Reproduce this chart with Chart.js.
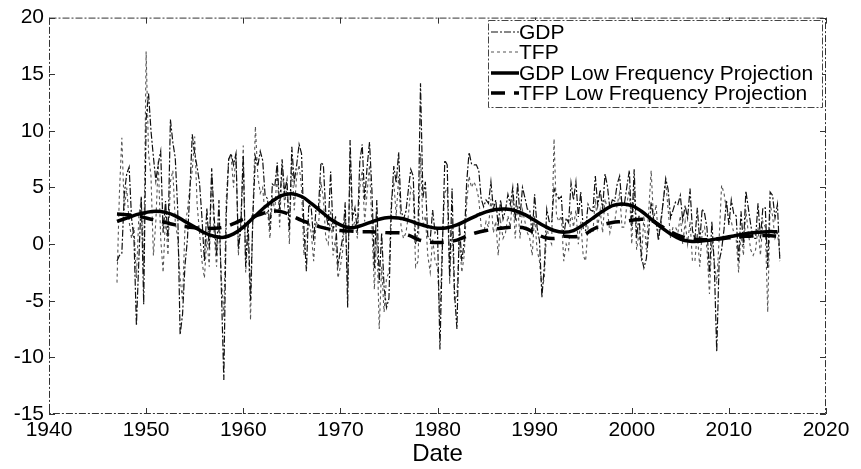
<!DOCTYPE html>
<html>
<head>
<meta charset="utf-8">
<script src="https://cdn.jsdelivr.net/npm/chart.js@4.4.1/dist/chart.umd.min.js"></script>
<style>
  html, body { margin: 0; padding: 0; background: #fff; }
  #chart { display: block; }
</style>
</head>
<body>
<canvas id="chart" width="861" height="469"></canvas>
<script>
// Quarterly growth, first value = 1947 Q1
const firstYear = 1947;

const gdp = [
  -1.5, -1.0, -0.8, 4.4,    // 1947
  6.2, 6.8, 2.3, 0.5,       // 1948
  -7.2, -1.4, 4.2, -5.3,    // 1949
  11.0, 13.3, 10.0, 7.7,    // 1950
  5.6, 7.1, 8.2, 1.0,       // 1951
  3.8, 0.4, 11.0, 9.0,      // 1952
  7.6, 3.1, -8.0, -6.2,     // 1953
  -1.9, 0.4, 4.6, 9.7,      // 1954
  8.0, 6.8, 5.4, 2.3,       // 1955
  -1.5, 3.2, -0.4, 6.7,     // 1956
  2.5, -1.0, 3.9, -4.1,     // 1957
  -12.0, 2.6, 7.5, 8.0,     // 1958
  7.0, 8.0, -0.4, 1.4,      // 1959
  7.8, -2.0, 2.1, -5.0,     // 1960
  2.7, 7.7, 6.9, 8.2,       // 1961
  7.4, 4.3, 4.0, 1.3,       // 1962
  5.3, 5.1, 7.2, 3.1,       // 1963
  7.5, 4.6, 5.7, 1.2,       // 1964
  8.6, 5.5, 7.0, 8.8,       // 1965
  8.0, 1.4, -2.4, 3.5,      // 1966
  3.2, 0.3, 3.2, 3.3,       // 1967
  7.2, 7.0, 2.7, 1.6,       // 1968
  6.4, 1.1, 2.5, -1.9,      // 1969
  -0.6, 0.6, 3.7, -5.6,     // 1970
  9.2, 2.3, 3.2, 1.1,       // 1971
  7.3, 8.8, 3.9, 6.8,       // 1972
  9.0, 4.7, -2.1, 3.9,      // 1973
  -3.4, 1.0, -3.8, -5.6,    // 1974
  -4.8, 3.1, 6.9, 5.4,      // 1975
  8.1, 3.0, 2.2, 2.9,       // 1976
  4.8, 6.6, 6.0, 0.0,       // 1977
  1.3, 14.2, 4.1, 5.5,      // 1978
  0.7, 0.4, 3.0, 1.0,       // 1979
  1.3, -9.3, -0.5, 7.4,     // 1980
  7.0, -2.9, 4.9, -4.3,     // 1981
  -7.5, 1.8, -1.5, 0.2,     // 1982
  5.4, 8.1, 7.1, 7.0,       // 1983
  7.0, 6.5, 4.0, 3.3,       // 1984
  3.9, 3.6, 5.5, 3.1,       // 1985
  3.9, 1.6, 3.9, 2.2,       // 1986
  3.0, 4.4, 3.5, 5.0,       // 1987
  2.1, 5.4, 2.4, 5.0,       // 1988
  4.1, 3.1, 3.0, 0.8,       // 1989
  4.4, 1.5, 0.3, -4.7,      // 1990
  -1.9, 3.1, 2.0, 1.9,      // 1991
  4.9, 4.4, 4.0, 4.2,       // 1992
  0.7, 2.3, 1.9, 5.4,       // 1993
  3.9, 5.5, 2.4, 4.6,       // 1994
  1.4, 1.2, 3.5, 3.0,       // 1995
  2.9, 6.0, 3.4, 4.8,       // 1996
  3.1, 6.2, 5.1, 3.1,       // 1997
  3.9, 3.8, 5.3, 6.0,       // 1998
  3.4, 3.6, 5.1, 6.5,       // 1999
  1.5, 6.6, 0.5, 2.5,       // 2000
  -1.1, -2.1, -1.3, 1.1,    // 2001
  3.7, 2.2, 2.0, 0.3,       // 2002
  2.1, 3.8, 5.8, 4.8,       // 2003
  2.3, 3.0, 3.7, 3.5,       // 2004
  4.3, 2.1, 3.4, 2.3,       // 2005
  4.9, 1.2, 0.4, 3.2,       // 2006
  0.2, 3.1, 2.7, 1.4,       // 2007
  -2.7, 2.0, -1.9, -9.5,    // 2008
  -1.5, -0.5, 1.3, 3.9,     // 2009
  1.7, 3.9, 2.7, 2.5,       // 2010
  -1.5, 2.9, -0.1, 4.7,     // 2011
  3.2, 1.7, 0.5, 0.5,       // 2012
  3.6, 0.5, 3.2, 3.2,       // 2013
  -2.1, 4.6, 4.3, 2.3,      // 2014
  3.5, -1.5                 // 2015
];

const tfp = [
  -3.4, 4.5, 9.4, 3.0,      // 1947
  5.0, 2.0, 0.5, 1.5,       // 1948
  -3.0, 2.5, 4.0, -2.0,     // 1949
  17.0, 8.0, 6.0, -1.0,     // 1950
  2.0, 7.3, 0.5, -2.5,      // 1951
  2.5, -1.0, 5.5, 6.5,      // 1952
  2.0, 0.5, -3.0, -5.0,     // 1953
  1.5, 3.0, 5.0, 6.5,       // 1954
  9.5, 3.5, 1.0, -1.5,      // 1955
  -3.0, 0.5, -2.0, 6.2,     // 1956
  1.0, -2.0, 2.0, -3.0,     // 1957
  -6.5, 4.0, 7.5, 7.8,      // 1958
  5.0, 8.0, -1.0, 2.0,      // 1959
  8.7, -2.5, 1.0, -6.7,     // 1960
  3.0, 10.4, 6.0, 4.5,      // 1961
  5.0, 2.5, 3.0, 0.5,       // 1962
  4.0, 3.0, 6.5, 1.5,       // 1963
  7.0, 3.5, 5.0, 0.0,       // 1964
  7.5, 3.0, 6.0, 7.0,       // 1965
  5.0, -1.0, 1.0, 2.0,      // 1966
  1.0, -1.5, 2.0, 1.5,      // 1967
  5.5, 4.0, 0.5, 0.0,       // 1968
  3.0, -1.0, 0.5, -3.0,     // 1969
  -2.0, -0.5, 3.0, -3.5,    // 1970
  7.5, 1.5, 2.0, 0.5,       // 1971
  5.0, 6.5, 2.0, 4.5,       // 1972
  7.0, 1.5, -4.0, 1.0,      // 1973
  -7.5, -2.0, -6.0, -3.0,   // 1974
  -2.5, 4.0, 5.5, 2.5,      // 1975
  6.0, 1.5, 0.5, 1.0,       // 1976
  2.5, 5.0, 4.5, -2.0,      // 1977
  -1.5, 8.0, 1.5, 2.5,      // 1978
  -1.0, -2.5, 0.5, -1.5,    // 1979
  -2.0, -6.5, 0.5, 4.5,     // 1980
  5.0, -3.5, 2.0, -5.0,     // 1981
  -4.5, 0.5, -2.5, -1.0,    // 1982
  3.5, 6.0, 5.0, 5.5,       // 1983
  5.0, 4.0, 1.5, 1.0,       // 1984
  2.0, 1.5, 4.0, 1.0,       // 1985
  2.0, -1.0, 2.0, 0.5,      // 1986
  1.0, 2.5, 1.5, 4.5,       // 1987
  0.5, 3.5, 0.5, 3.0,       // 1988
  2.0, 1.0, 0.5, -1.0,      // 1989
  2.5, -0.5, -1.5, -4.0,    // 1990
  -3.0, 1.5, 0.5, 0.0,      // 1991
  9.3, 2.5, 2.0, 2.5,       // 1992
  -1.5, 0.0, -0.5, 3.0,     // 1993
  1.5, 3.0, 0.0, 2.0,       // 1994
  -1.0, -1.5, 1.5, 1.0,     // 1995
  1.0, 4.0, 1.5, 3.0,       // 1996
  1.0, 4.0, 3.0, 1.0,       // 1997
  2.0, 2.0, 3.5, 4.5,       // 1998
  1.5, 1.5, 3.5, 5.0,       // 1999
  0.0, 5.0, -0.5, 1.0,      // 2000
  -1.5, 2.5, -0.5, 3.0,     // 2001
  6.5, 2.0, 3.5, 0.5,       // 2002
  1.5, 4.0, 5.5, 3.0,       // 2003
  0.5, 1.5, 1.5, 1.0,       // 2004
  2.5, 0.0, 2.0, 0.0,       // 2005
  2.0, -1.5, -1.5, 1.0,     // 2006
  -2.0, 1.0, 1.5, -0.5,     // 2007
  -4.4, 0.5, -1.5, -3.5,    // 2008
  0.5, 5.2, 4.5, 3.0,       // 2009
  2.5, 2.0, 1.0, 0.5,       // 2010
  -2.5, 1.0, -1.0, 3.0,     // 2011
  1.0, -0.5, -1.0, -0.5,    // 2012
  1.5, -1.0, 2.0, 1.5,      // 2013
  -6.0, 3.5, 2.5, 0.5,      // 2014
  1.0, -1.0                 // 2015
];

// Low frequency projections, one value per year
const lfpYears = [
  1947, 1948, 1949, 1950, 1951, 1952, 1953, 1954, 1955, 1956,
  1957, 1958, 1959, 1960, 1961, 1962, 1963, 1964, 1965, 1966,
  1967, 1968, 1969, 1970, 1971, 1972, 1973, 1974, 1975, 1976,
  1977, 1978, 1979, 1980, 1981, 1982, 1983, 1984, 1985, 1986,
  1987, 1988, 1989, 1990, 1991, 1992, 1993, 1994, 1995, 1996,
  1997, 1998, 1999, 2000, 2001, 2002, 2003, 2004, 2005, 2006,
  2007, 2008, 2009, 2010, 2011, 2012, 2013, 2014, 2015
];

const gdpLow = [
  2.0, 2.3, 2.6, 2.8, 2.9, 2.8, 2.5, 2.0, 1.5, 1.0,
  0.7, 0.6, 0.9, 1.5, 2.3, 3.1, 3.8, 4.3, 4.45, 4.2,
  3.6, 2.9, 2.2, 1.7, 1.45, 1.6, 1.9, 2.2, 2.35, 2.3,
  2.1, 1.8, 1.55, 1.4, 1.45, 1.7, 2.1, 2.5, 2.85, 3.05,
  3.1, 2.95, 2.6, 2.1, 1.6, 1.2, 1.05, 1.2, 1.7, 2.3,
  2.9, 3.4, 3.55, 3.4, 2.9, 2.2, 1.5, 0.9, 0.45, 0.25,
  0.25, 0.35, 0.5, 0.65, 0.8, 0.95, 1.05, 1.1, 1.1
];

const tfpLow = [
  2.65, 2.6, 2.5, 2.3, 2.1, 1.9, 1.7, 1.55, 1.45, 1.4,
  1.4, 1.5, 1.8, 2.2, 2.4, 2.7, 2.9, 2.85, 2.5, 2.1,
  1.8, 1.5, 1.3, 1.2, 1.15, 1.1, 1.1, 1.05, 1.0, 1.0,
  0.8, 0.4, 0.2, 0.15, 0.2, 0.35, 0.7, 1.0, 1.2, 1.35,
  1.45, 1.5, 1.4, 1.0, 0.6, 0.5, 0.7, 0.65, 0.8, 1.3,
  1.7, 1.9, 2.0, 2.1, 2.2, 2.1, 1.6, 1.1, 0.7, 0.5,
  0.4, 0.4, 0.45, 0.55, 0.65, 0.7, 0.75, 0.75, 0.7
];

const xTicks = [1940, 1950, 1960, 1970, 1980, 1990, 2000, 2010, 2020];
const yTicks = [-15, -10, -5, 0, 5, 10, 15, 20];

const FONT = "'Liberation Sans', Arial, Helvetica, sans-serif";
const INK = '#000';

function quarterly(values) {
  return values.map((v, i) => ({ x: firstYear + i / 4, y: v }));
}
function yearly(values) {
  return values.map((v, i) => ({ x: lfpYears[i], y: v }));
}

// box round the plot with MATLAB style inward ticks
const axesBox = {
  id: 'axesBox',
  afterDatasetsDraw(chart) {
    const { ctx, chartArea: a, scales } = chart;
    ctx.save();
    ctx.strokeStyle = '#333';
    ctx.lineWidth = 1;
    ctx.setLineDash([7, 2, 2, 2]);
    ctx.strokeRect(a.left + 0.5, a.top + 0.5, a.right - a.left - 1, a.bottom - a.top - 1);
    ctx.setLineDash([]);
    ctx.beginPath();
    xTicks.forEach(t => {
      const px = Math.round(scales.x.getPixelForValue(t)) + 0.5;
      ctx.moveTo(px, a.bottom); ctx.lineTo(px, a.bottom - 6);
      ctx.moveTo(px, a.top); ctx.lineTo(px, a.top + 6);
    });
    yTicks.forEach(t => {
      const py = Math.round(scales.y.getPixelForValue(t)) + 0.5;
      ctx.moveTo(a.left, py); ctx.lineTo(a.left + 6, py);
      ctx.moveTo(a.right, py); ctx.lineTo(a.right - 6, py);
    });
    ctx.stroke();
    ctx.restore();
  }
};

// legend box in the upper right corner
const boxLegend = {
  id: 'boxLegend',
  afterDraw(chart) {
    const { ctx } = chart;
    const x0 = 488, y0 = 20, w = 334, h = 87;
    ctx.save();
    ctx.fillStyle = '#fff';
    ctx.fillRect(x0, y0, w, h);
    ctx.strokeStyle = '#444';
    ctx.lineWidth = 1;
    ctx.setLineDash([7, 2, 2, 2]);
    ctx.strokeRect(x0 + 0.5, y0 + 0.5, w, h);
    ctx.font = '21px ' + FONT;
    ctx.textBaseline = 'middle';
    ctx.fillStyle = INK;
    const rowY = [32, 52, 73, 93];
    chart.data.datasets.forEach((ds, i) => {
      const y = rowY[i];
      ctx.beginPath();
      ctx.strokeStyle = ds.borderColor;
      ctx.lineWidth = ds.borderWidth;
      ctx.setLineDash(ds.borderDash || []);
      ctx.moveTo(491, y); ctx.lineTo(519, y);
      ctx.stroke();
      ctx.setLineDash([]);
      ctx.fillText(ds.label, 519, y + 1);
    });
    ctx.restore();
  }
};

new Chart(document.getElementById('chart'), {
  type: 'line',
  data: {
    datasets: [
      {
        label: 'GDP',
        data: quarterly(gdp),
        borderColor: '#111',
        borderWidth: 1.2,
        borderDash: [7, 2, 2, 2],
        tension: 0,
        order: 2
      },
      {
        label: 'TFP',
        data: quarterly(tfp),
        borderColor: '#555',
        borderWidth: 1.1,
        borderDash: [3, 3],
        tension: 0,
        order: 3
      },
      {
        label: 'GDP Low Frequency Projection',
        data: yearly(gdpLow),
        borderColor: '#000',
        borderWidth: 3.5,
        tension: 0.4,
        order: 0
      },
      {
        label: 'TFP Low Frequency Projection',
        data: yearly(tfpLow),
        borderColor: '#000',
        borderWidth: 3.5,
        borderDash: [14, 9],
        tension: 0.4,
        order: 1
      }
    ]
  },
  options: {
    responsive: false,
    animation: false,
    parsing: false,
    layout: { padding: { top: 14, right: 35, left: 0, bottom: 0 } },
    elements: { point: { radius: 0 } },
    plugins: {
      legend: { display: false },
      tooltip: { enabled: false }
    },
    scales: {
      x: {
        type: 'linear',
        min: 1940,
        max: 2020,
        afterBuildTicks: s => { s.ticks = xTicks.map(v => ({ value: v })); },
        grid: { display: false, drawTicks: false },
        border: { display: false },
        ticks: {
          color: INK,
          font: { family: FONT, size: 21 },
          padding: 4,
          maxRotation: 0,
          callback: v => String(v)
        },
        title: {
          display: true,
          text: 'Date',
          color: INK,
          font: { family: FONT, size: 24 },
          padding: { top: -9, bottom: 0 }
        },
        afterFit: s => { s.height = 55; }
      },
      y: {
        min: -15,
        max: 20,
        afterBuildTicks: s => { s.ticks = yTicks.map(v => ({ value: v })); },
        grid: { display: false, drawTicks: false },
        border: { display: false },
        ticks: {
          color: INK,
          font: { family: FONT, size: 21 },
          padding: 5
        },
        afterFit: s => { s.width = 49; }
      }
    }
  },
  plugins: [axesBox, boxLegend]
});
</script>
</body>
</html>
